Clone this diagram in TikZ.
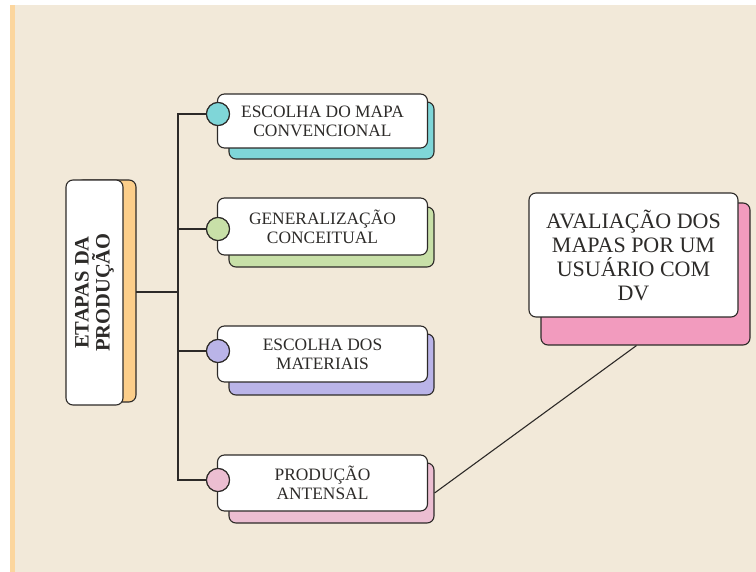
\documentclass[tikz,border=0pt]{standalone}
\usepackage{fontspec}
\setmainfont{Liberation Serif}
\usepackage{tikz}

\definecolor{paper}{RGB}{242,233,217}
\definecolor{strip}{RGB}{252,214,158}
\definecolor{ink}{RGB}{45,42,40}
\definecolor{txt}{RGB}{45,43,41}
\definecolor{orangeS}{RGB}{252,206,138}
\definecolor{cyanS}{RGB}{127,214,216}
\definecolor{greenS}{RGB}{200,224,168}
\definecolor{purpleS}{RGB}{186,180,232}
\definecolor{pinkS}{RGB}{236,190,210}
\definecolor{roseS}{RGB}{242,155,190}

\tikzset{
  box/.style={draw=ink, fill=white, line width=1.1pt, rounded corners=7pt, inner sep=0pt,
    align=center, text=txt, font=\fontsize{17.4}{19}\selectfont},
  back/.style={draw=ink, line width=1.1pt, rounded corners=7pt, inner sep=0pt},
  dot/.style={circle, draw=ink, line width=1.1pt, minimum size=23pt, inner sep=0pt},
  link/.style={draw=ink, line width=1.1pt}
}

\begin{document}
\begin{tikzpicture}[x=1pt,y=-1pt]
\useasboundingbox (0,0) rectangle (756,572);
% paper
\fill[white] (0,0) rectangle (756,572);
\fill[paper] (10,5) rectangle (756,572);
\fill[strip] (10,5) rectangle (15,572);

% back boxes
\node[back, fill=orangeS, minimum width=60pt, minimum height=222pt] (mainS) at (106,291) {};
\node[back, fill=cyanS, minimum width=205pt, minimum height=57pt] (mapaS) at (331.5,130.5) {};
\node[back, fill=greenS, minimum width=205pt, minimum height=60pt] (geneS) at (331.5,237) {};
\node[back, fill=purpleS, minimum width=205pt, minimum height=61pt] (mateS) at (331.5,364.5) {};
\node[back, fill=pinkS, minimum width=205pt, minimum height=60pt] (prodS) at (331.5,493) {};
\node[back, fill=roseS, minimum width=209pt, minimum height=142pt] (avalS) at (645.5,274) {};

% front boxes
\node[box, rotate=90, minimum width=225pt, minimum height=57pt,
  font=\bfseries\fontsize{20.5}{21}\selectfont] (main) at (94.5,292.5) {ETAPAS DA\\PRODUÇÃO};
\node[box, minimum width=210pt, minimum height=54pt] (mapa) at (322.5,121) {ESCOLHA DO MAPA\\CONVENCIONAL};
\node[box, minimum width=210pt, minimum height=57pt] (gene) at (322.5,226.5) {GENERALIZAÇÃO\\CONCEITUAL};
\node[box, minimum width=210pt, minimum height=56pt] (mate) at (322.5,354) {ESCOLHA DOS\\MATERIAIS};
\node[box, minimum width=210pt, minimum height=56pt] (prod) at (322.5,483) {PRODUÇÃO\\ANTENSAL};
\node[box, minimum width=209pt, minimum height=124pt,
  font=\fontsize{22}{24}\selectfont] (aval) at (633.5,255) {AVALIAÇÃO DOS\\MAPAS POR UM\\USUÁRIO COM\\DV};

% connectors
\coordinate (fork) at (178,292);
\node[dot, fill=cyanS] (dot1) at (218,114) {};
\node[dot, fill=greenS] (dot2) at (218,229) {};
\node[dot, fill=purpleS] (dot3) at (218,351) {};
\node[dot, fill=pinkS] (dot4) at (218,480) {};
\draw[link] (136,292) -- (fork);
\draw[link] (dot1.center) -| (fork) |- (dot4.center);
\draw[link] (dot2.center) -- (dot2.center -| fork);
\draw[link] (dot3.center) -- (dot3.center -| fork);
\draw[link] (prodS.east) -- ([xshift=-9pt]avalS.south);
% dots on top
\node[dot, fill=cyanS] at (dot1) {};
\node[dot, fill=greenS] at (dot2) {};
\node[dot, fill=purpleS] at (dot3) {};
\node[dot, fill=pinkS] at (dot4) {};
\end{tikzpicture}
\end{document}
